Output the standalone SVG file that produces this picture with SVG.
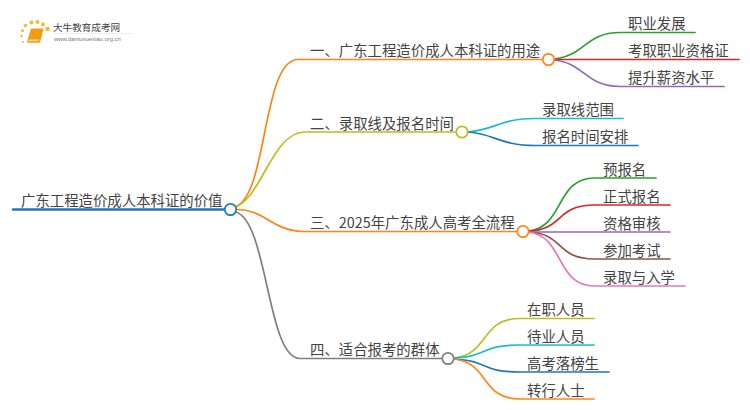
<svg xmlns="http://www.w3.org/2000/svg" width="750" height="410" viewBox="0 0 750 410">
<style>
text{font-family:"Noto Sans CJK SC","Liberation Sans",sans-serif;fill:#444;font-size:14.4px}
.c path{fill:none;stroke-width:1.7;stroke-linecap:round}
.n{fill:#fff;stroke-width:1.7}
.o{stroke:#ff8516}.y{stroke:#bcbd22}.g{stroke:#2ca02c}.r{stroke:#d62728}.p{stroke:#9467bd}.t{stroke:#17becf}.b{stroke:#1f77b4}.br{stroke:#8c564b}.k{stroke:#e377c2}.gr{stroke:#7f7f7f}
</style>
<rect width="750" height="410" fill="#fff"/>
<g id="logo">
<g fill="#f7b733"><circle cx="23" cy="42" r="1"/><circle cx="21.500" cy="36" r="1.300"/><circle cx="22.500" cy="30.500" r="1.500"/><circle cx="25.500" cy="25.500" r="1.700"/><circle cx="31.500" cy="22.500" r="2"/><circle cx="37.500" cy="22" r="2"/><circle cx="43" cy="24.500" r="2"/><circle cx="47.500" cy="29" r="2.300"/></g>
<path d="M31 28.500h11.500q1 0 .8 1l-3 12q-.3 1.200-1.500 1.200h-11q-1 0-.7-1z" fill="#f59a12"/><path d="M28.500 39.500h10.500l-.6 1.800h-10.400z" fill="#fbd9a0"/>
<text x="53" y="31" style="font-size:9.600px">大牛教育成考网</text>
<path d="M53 33.500h80" stroke="#e8e8e8" stroke-width=".7"/>
<text x="54" y="41" style="font-size:5.900px;font-family:'Liberation Sans',sans-serif;fill:#777">www.daniuxuexiao.org.cn</text>
</g>
<g id="connectors" class="c">
<path class="b" d="M13 209.500H225" style="stroke-width:2.400"/>
<path class="o" d="M235 207C268 196 262 59.500 298 59.500H543"/>
<path class="y" d="M235 207C262 198 272 132 305 132H456"/>
<path class="o" d="M236 209.500C265 209 272 231.500 305 231.500H517"/>
<path class="gr" d="M236 212C268 222 267 358.500 300 358.500H442"/>
<path class="g" d="M554 59C585 56 585 32.500 620 32.500H695"/>
<path class="r" d="M554 59.500H739"/>
<path class="p" d="M554 60C585 63 585 86.500 620 86.500H724"/>
<path class="t" d="M468 132C495 130 500 118.500 535 118.500H623"/>
<path class="b" d="M468 132C495 134 500 145.500 535 145.500H638"/>
<path class="g" d="M529 231C565 226 555 178 595 178H656"/>
<path class="r" d="M529 231C565 229 555 205 595 205H670"/>
<path class="p" d="M529 232H670"/>
<path class="br" d="M529 232C565 234 555 259 595 259H670"/>
<path class="k" d="M529 232C565 237 555 286 595 286H685"/>
<path class="y" d="M454 358C490 354 480 318.500 520 318.500H594"/>
<path class="t" d="M454 358C490 356 480 345 520 345H594"/>
<path class="b" d="M454 359C490 361 480 372 520 372H609"/>
<path class="o" d="M454 359C490 363 480 399 520 399H594"/>
</g>
<g id="root"><text x="21" y="205.500">广东工程造价成人本科证的价值</text><circle class="n b" cx="230.500" cy="209.500" r="5.700"/></g>
<g id="n1"><text x="310" y="55.500">一、广东工程造价成人本科证的用途</text><circle class="n o" cx="548.500" cy="59.500" r="5.700"/></g>
<g id="n2"><text x="310" y="128.500">二、录取线及报名时间</text><circle class="n y" cx="462" cy="132" r="5.700"/></g>
<g id="n3"><text x="310" y="228">三、2025年广东成人高考全流程</text><circle class="n o" cx="523" cy="231.500" r="5.700"/></g>
<g id="n4"><text x="310" y="355">四、适合报考的群体</text><circle class="n gr" cx="448" cy="358.500" r="5.700"/></g>
<g id="a1"><text x="628" y="29">职业发展</text></g>
<g id="a2"><text x="628" y="56">考取职业资格证</text></g>
<g id="a3"><text x="628" y="83">提升薪资水平</text></g>
<g id="b1"><text x="542" y="115">录取线范围</text></g>
<g id="b2"><text x="542" y="142">报名时间安排</text></g>
<g id="c1"><text x="603" y="174.500">预报名</text></g>
<g id="c2"><text x="603" y="201.500">正式报名</text></g>
<g id="c3"><text x="603" y="228.500">资格审核</text></g>
<g id="c4"><text x="603" y="255.500">参加考试</text></g>
<g id="c5"><text x="603" y="282.500">录取与入学</text></g>
<g id="d1"><text x="527" y="315">在职人员</text></g>
<g id="d2"><text x="527" y="342">待业人员</text></g>
<g id="d3"><text x="527" y="369">高考落榜生</text></g>
<g id="d4"><text x="527" y="396">转行人士</text></g>
</svg>
